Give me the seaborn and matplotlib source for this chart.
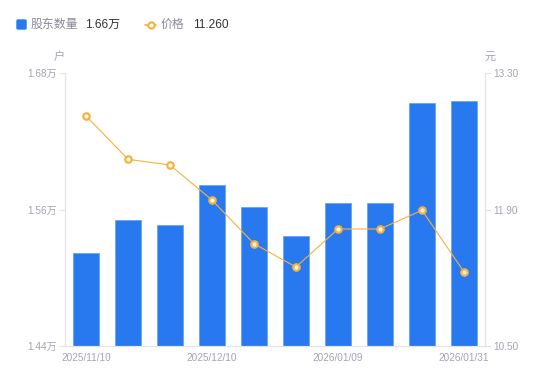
import numpy as np
import pandas as pd
import matplotlib
matplotlib.use("Agg")
import matplotlib.pyplot as plt
import seaborn as sns

# --- data ---
dates = ["2025/11/10", "2025/11/20", "2025/11/30", "2025/12/10", "2025/12/20",
         "2025/12/31", "2026/01/09", "2026/01/16", "2026/01/23", "2026/01/31"]
holders = [1.5215, 1.5508, 1.5464, 1.5818, 1.5619, 1.5367, 1.5654, 1.5654, 1.6534, 1.6554]  # 万户
prices = [12.86, 12.415, 12.356, 11.997, 11.549, 11.31, 11.70, 11.70, 11.892, 11.26]  # 元
left_ticks = [1.44, 1.56, 1.68]
right_ticks = [10.50, 11.90, 13.30]
shown_idx = [0, 3, 6, 9]

BLUE = "#2878f0"
ORANGE = "#f8b13a"
GRID = "#e3e3e8"
TXT = "#a3a3b3"

sns.set_theme(style="white")
plt.rcParams["font.family"] = ["Liberation Sans", "Noto Sans CJK SC", "DejaVu Sans"]

df = pd.DataFrame({"date": dates, "holders": holders, "price": prices})

fig = plt.figure(figsize=(5.5, 3.81), dpi=100)
ax = fig.add_axes([65 / 550, 35 / 381, 420 / 550, 273 / 381])

sns.barplot(data=df, x="date", y="holders", color=BLUE, width=0.6,
            edgecolor="#6aa3f7", linewidth=0.6, saturation=1, ax=ax)
ax.set_ylim(left_ticks[0], left_ticks[-1])
ax.set_xlim(-0.5, len(dates) - 0.5)
ax.set_yticks(left_ticks)
ax.set_yticklabels([f"{v:.2f}万" for v in left_ticks])
ax.set_xticks(shown_idx)
ax.set_xticklabels([dates[i] for i in shown_idx])
ax.set_xlabel("")
ax.set_ylabel("")
ax.tick_params(axis="y", length=4, width=0.8, color=GRID, labelsize=7.2, labelcolor=TXT, pad=2)
ax.tick_params(axis="x", length=0, labelsize=7.2, labelcolor=TXT, pad=5)

ax2 = ax.twinx()
sns.lineplot(x=np.arange(len(prices)), y=prices, color=ORANGE, linewidth=0.8,
             marker="o", markersize=4.6, markerfacecolor="white",
             markeredgecolor=ORANGE, markeredgewidth=1.6, ax=ax2)
ax2.set_ylim(right_ticks[0], right_ticks[-1])
ax2.set_yticks(right_ticks)
ax2.set_yticklabels([f"{v:.2f}" for v in right_ticks])
ax2.tick_params(axis="y", length=4, width=0.8, color=GRID, labelsize=7.2, labelcolor=TXT, pad=2)
ax2.set_xlim(-0.5, len(dates) - 0.5)
ax2.grid(False)
ax.grid(False)

for a in (ax, ax2):
    a.spines["top"].set_visible(False)
    for s in ("left", "right", "bottom"):
        a.spines[s].set_color(GRID)
        a.spines[s].set_linewidth(0.8)

# unit labels
fig.text(59 / 550, 1 - 57 / 381, "户", fontsize=8, color=TXT, ha="center", va="center")
fig.text(490 / 550, 1 - 57 / 381, "元", fontsize=8, color=TXT, ha="center", va="center")

# legend row
ly = 1 - 24.5 / 381
fig.patches.append(matplotlib.patches.FancyBboxPatch(
    (17 / 550, 1 - 29 / 381), 9 / 550, 9 / 381, boxstyle="round,pad=0,rounding_size=0.002",
    transform=fig.transFigure, color=BLUE))
fig.text(31 / 550, ly, "股东数量", fontsize=8.6, color="#8a8a9a", va="center")
fig.text(85 / 550, ly, "1.66万", fontsize=8.6, color="#333333", va="center")
fig.add_artist(matplotlib.lines.Line2D([145 / 550, 156 / 550], [ly, ly], color=ORANGE, lw=1.2,
                                       transform=fig.transFigure))
fig.add_artist(matplotlib.lines.Line2D([150.5 / 550], [ly], color=ORANGE, marker="o", markersize=4.5,
                                       markerfacecolor="white", markeredgewidth=1.5,
                                       transform=fig.transFigure))
fig.text(161 / 550, ly, "价格", fontsize=8.6, color="#8a8a9a", va="center")
fig.text(193 / 550, ly, "11.260", fontsize=8.6, color="#333333", va="center")

fig.savefig("out.png", dpi=100)
